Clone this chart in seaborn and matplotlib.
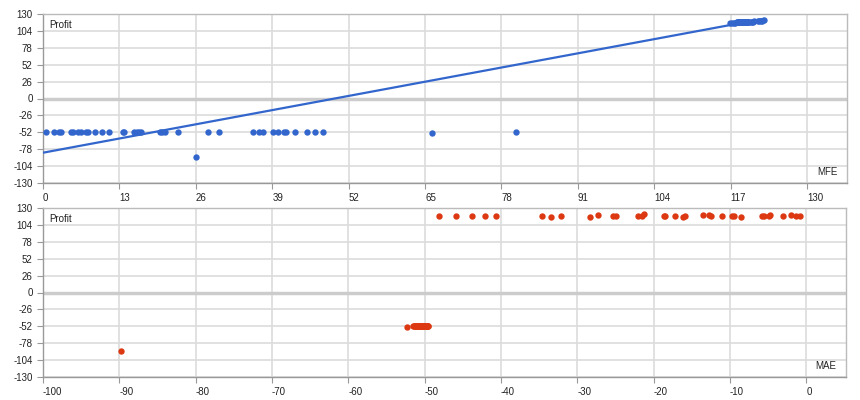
import numpy as np
import pandas as pd
import matplotlib
matplotlib.use("Agg")
import matplotlib.pyplot as plt
import seaborn as sns

# ---- data ----
# losing trades
mfe_loss = [0.5, 1.8, 2.8, 3.0, 4.7, 5.1, 6.0, 6.4, 7.3, 7.6, 8.8, 10.0, 11.2,
            13.6, 13.8, 15.4, 16.0, 16.4, 16.7, 19.9, 20.3, 20.7, 23.0, 26.1,
            28.1, 30.0, 35.7, 36.7, 37.4, 39.1, 39.9, 41.0, 41.4, 42.8, 45.0,
            46.2, 47.6, 66.2, 80.5]
mae_loss = [-51.4, -51.2, -51.0, -50.9, -50.8, -50.7, -50.6, -50.5, -50.4, -50.3,
            -50.2, -50.1, -50.0, -49.9, -49.8, -49.7, -49.6, -51.3, -51.1, -50.85,
            -50.75, -50.65, -50.55, -89.8, -50.45, -50.35, -50.25, -50.15, -50.05,
            -49.95, -49.85, -49.75, -49.65, -51.5, -50.9, -50.3, -49.7, -52.25, -49.6]
profit_loss = [-52, -52, -52, -52, -52, -52, -52, -52, -52, -52, -52, -52, -52,
               -52, -52, -52, -52, -52, -52, -52, -52, -52, -52, -90,
               -52, -52, -52, -52, -52, -52, -52, -52, -52, -52, -52,
               -52, -52, -53.5, -52]

# winning trades
mae_win = [-48.1, -45.9, -43.8, -42.1, -40.6, -34.6, -33.5, -32.2, -28.4, -27.3,
           -25.3, -24.9, -22.1, -21.5, -21.2, -18.7, -18.5, -17.2, -16.1, -15.9,
           -13.5, -12.7, -12.5, -11.0, -9.8, -9.5, -8.5, -5.8, -5.6, -4.9,
           -4.7, -3.1, -2.0, -1.3, -0.8]
profit_win = [117, 117, 117, 117, 117, 117, 116.5, 117, 116.5, 118.8,
              117, 117, 117.5, 117, 120.5, 117, 117, 117, 116.5, 117.5,
              120, 119.5, 117, 117, 117, 117, 116.5, 117, 117, 117.5,
              119.5, 117, 120, 117, 117]
mfe_win = [118.0, 118.1, 118.2, 118.3, 118.4, 118.5, 117.2, 118.6, 116.9, 121.0,
           118.7, 118.8, 120.4, 118.9, 122.7, 119.0, 119.1, 119.2, 117.5, 120.6,
           122.1, 121.6, 119.3, 119.4, 119.5, 119.6, 117.8, 119.7, 119.8, 120.8,
           121.9, 119.9, 122.4, 120.0, 120.2]

# trend line as drawn in the reference
trend_intercept = -83.4
trend_slope = 1.68
trend_x = [0, 122.7]

mfe_ticks = [0, 13, 26, 39, 52, 65, 78, 91, 104, 117, 130]
mae_ticks = [-100, -90, -80, -70, -60, -50, -40, -30, -20, -10, 0]
profit_ticks = [-130, -104, -78, -52, -26, 0, 26, 52, 78, 104, 130]

BLUE = "#3366cc"
RED = "#dc3912"

df = pd.DataFrame({
    "MFE": mfe_loss + mfe_win,
    "MAE": mae_loss + mae_win,
    "Profit": profit_loss + profit_win,
})
trend = pd.DataFrame({"MFE": trend_x})
trend["Profit"] = trend_intercept + trend_slope * trend["MFE"]

sns.set_theme(style="white")
plt.rcParams["font.family"] = ["Liberation Sans", "DejaVu Sans"]
plt.rcParams["axes.unicode_minus"] = False

fig = plt.figure(figsize=(8.6, 4.0), dpi=100)
ax_top = fig.add_axes([43 / 860, 1 - 183 / 400, 804 / 860, 169 / 400])
ax_bot = fig.add_axes([43 / 860, 1 - 377 / 400, 803 / 860, 169 / 400])


def style_axis(ax, xticks, xlim, xlabel):
    ax.set_xlim(*xlim)
    ax.set_ylim(-130, 130)
    ax.set_xticks(xticks)
    ax.set_yticks(profit_ticks)
    ax.grid(True, color="#dcdcdc", linewidth=1.2, zorder=0)
    ax.axhline(0, color="#cccccc", linewidth=2.5, zorder=1)
    for side in ["top", "right"]:
        ax.spines[side].set_color("#bbbbbb")
        ax.spines[side].set_linewidth(1.0)
    for side in ["left", "bottom"]:
        ax.spines[side].set_color("#999999")
        ax.spines[side].set_linewidth(1.0)
    ax.tick_params(axis="both", labelsize=7, colors="#999999",
                   labelcolor="#222222", length=4.5, width=0.8, direction="out",
                   pad=3, left=True, bottom=True)
    for lbl in ax.get_xticklabels():
        lbl.set_horizontalalignment("left")
    ax.set_xlabel("")
    ax.set_ylabel("")
    ax.text(0.008, 0.965, "Profit", transform=ax.transAxes, fontsize=7,
            color="#222222", ha="left", va="top")
    ax.text(0.988, 0.035, xlabel, transform=ax.transAxes, fontsize=7,
            color="#222222", ha="right", va="bottom")


sns.scatterplot(data=df, x="MFE", y="Profit", ax=ax_top, color=BLUE, s=21,
                linewidth=0, zorder=3, legend=False)
sns.lineplot(data=trend, x="MFE", y="Profit", ax=ax_top, color=BLUE,
             linewidth=1.6, zorder=4)
style_axis(ax_top, mfe_ticks, (0, 136.8), "MFE")

sns.scatterplot(data=df, x="MAE", y="Profit", ax=ax_bot, color=RED, s=21,
                linewidth=0, zorder=3, legend=False)
style_axis(ax_bot, mae_ticks, (-100, 5.2), "MAE")

fig.savefig("out.png", dpi=100)
